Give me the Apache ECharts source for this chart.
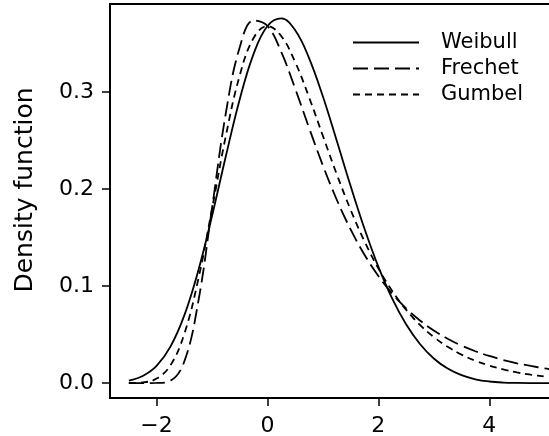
<!DOCTYPE html>
<html>
<head>
<meta charset="utf-8">
<script src="https://cdn.jsdelivr.net/npm/echarts@6/dist/echarts.min.js"></script>
<style>
html,body{margin:0;padding:0;background:#fff;}
#c{width:549px;height:436px;}
</style>
</head>
<body>
<div id="c"></div>
<script>
const xValues = [-2.5,-2.25,-2.0,-1.75,-1.5,-1.25,-1.0,-0.75,-0.5,-0.25,0,0.25,0.5,0.75,1.0,1.25,1.5,1.75,2.0,2.25,2.5,2.75,3.0,3.25,3.5,3.75,4.0,4.25,4.5,4.75,5.0,5.25,5.5,5.75,6.0];
const weibull = [0.0026,0.0073,0.0177,0.0375,0.0697,0.1154,0.1722,0.2340,0.2925,0.3392,0.3679,0.3757,0.3635,0.3349,0.2952,0.2496,0.2030,0.1590,0.1199,0.0870,0.0606,0.0403,0.0253,0.0149,0.0081,0.0039,0.0016,0.0005,0.0001,0.0000,0,0,0,0,0];
const frechet = [0,0,0.0001,0.0024,0.0222,0.0831,0.1803,0.2784,0.3460,0.3736,0.3679,0.3409,0.3034,0.2630,0.2241,0.1889,0.1583,0.1322,0.1103,0.0921,0.0770,0.0645,0.0542,0.0457,0.0386,0.0328,0.0279,0.0238,0.0204,0.0176,0.0151,0.0131,0.0114,0.0099,0.0087];
const gumbel = [0.0001,0.0007,0.0046,0.0182,0.0507,0.1064,0.1794,0.2549,0.3170,0.3556,0.3679,0.3574,0.3307,0.2945,0.2546,0.2151,0.1785,0.1460,0.1182,0.0949,0.0756,0.0600,0.0474,0.0373,0.0293,0.0230,0.0180,0.0141,0.0110,0.0086,0.0067,0.0052,0.0041,0.0032,0.0025];
const xTicks = [-2, 0, 2, 4];
const yTicks = [0, 0.1, 0.2, 0.3];
const seriesNames = ['Weibull', 'Frechet', 'Gumbel'];

const pairs = ys => xValues.map((x, i) => [x, ys[i]]);
const font = 'DejaVu Sans';

const chart = echarts.init(document.getElementById('c'), null, {renderer: 'canvas'});
chart.setOption({
  animation: false,
  backgroundColor: '#fff',
  grid: {left: 110, top: 4, width: 509, height: 394, outerBoundsMode: 'none', containLabel: false,
         show: true, borderColor: '#000', borderWidth: 2, backgroundColor: 'transparent'},
  legend: {
    orient: 'vertical', left: 347, top: 27, itemWidth: 66, itemHeight: 14, itemGap: 5,
    data: seriesNames,
    itemStyle: {opacity: 0, borderWidth: 0},
    textStyle: {fontFamily: font, fontSize: 21, color: '#000', lineHeight: 21, padding: [0, 0, 0, 17]}
  },
  xAxis: {
    type: 'value', min: -2.84, max: 6.34,
    axisLine: {show: false, onZero: false},
    splitLine: {show: false},
    axisTick: {show: true, customValues: xTicks, length: 8, lineStyle: {color: '#000', width: 1.5}},
    axisLabel: {customValues: xTicks, margin: 17, fontFamily: font, fontSize: 22, color: '#000',
      formatter: v => String(v).replace('-', '\u2212')}
  },
  yAxis: {
    type: 'value', min: -0.0154, max: 0.3906,
    name: 'Density function', nameLocation: 'middle', nameGap: 72,
    nameTextStyle: {fontFamily: font, fontSize: 25, color: '#000', padding: [0, 0, 0, 22]},
    axisLine: {show: false, onZero: false},
    splitLine: {show: false},
    axisTick: {show: true, customValues: yTicks, length: 8, lineStyle: {color: '#000', width: 1.5}},
    axisLabel: {customValues: yTicks, margin: 16, fontFamily: font, fontSize: 22, color: '#000',
      formatter: v => v.toFixed(1)}
  },
  series: [
    {name: 'Weibull', type: 'line', data: pairs(weibull), smooth: 0.4, symbol: 'none', showSymbol: false,
     itemStyle: {color: '#000'}, lineStyle: {color: '#000', width: 1.8, type: 'solid'}},
    {name: 'Frechet', type: 'line', data: pairs(frechet), smooth: 0.4, symbol: 'none', showSymbol: false,
     itemStyle: {color: '#000'}, lineStyle: {color: '#000', width: 1.8, type: [15, 6]}},
    {name: 'Gumbel', type: 'line', data: pairs(gumbel), smooth: 0.4, symbol: 'none', showSymbol: false,
     itemStyle: {color: '#000'}, lineStyle: {color: '#000', width: 1.8, type: [7, 5]}}
  ]
});
</script>
</body>
</html>
